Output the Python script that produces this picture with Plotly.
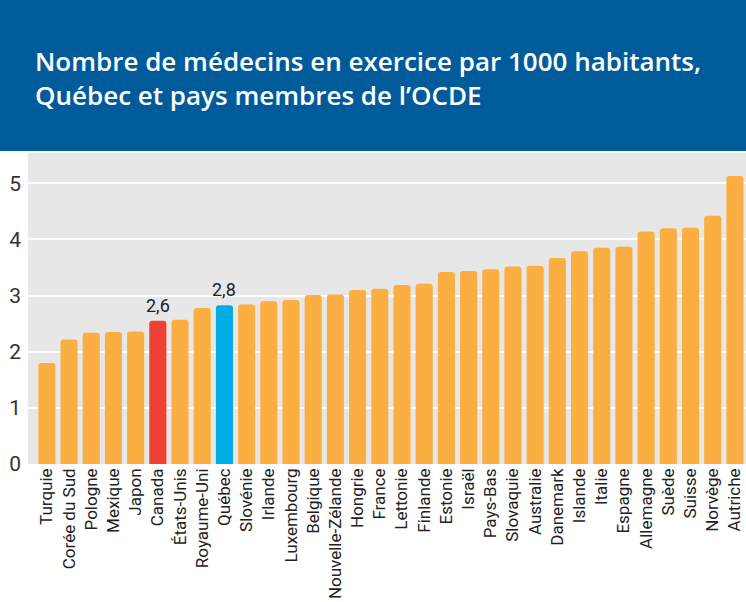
import plotly.graph_objects as go

countries = ["Turquie", "Corée du Sud", "Pologne", "Mexique", "Japon", "Canada",
             "États-Unis", "Royaume-Uni", "Québec", "Slovénie", "Irlande",
             "Luxembourg", "Belgique", "Nouvelle-Zélande", "Hongrie", "France",
             "Lettonie", "Finlande", "Estonie", "Israël", "Pays-Bas", "Slovaquie",
             "Australie", "Danemark", "Islande", "Italie", "Espagne", "Allemagne",
             "Suède", "Suisse", "Norvège", "Autriche"]
values = [1.80, 2.22, 2.34, 2.35, 2.36, 2.55, 2.57, 2.78, 2.83, 2.84, 2.90,
          2.92, 3.01, 3.02, 3.10, 3.12, 3.19, 3.21, 3.42, 3.44, 3.47, 3.52,
          3.53, 3.67, 3.79, 3.85, 3.87, 4.14, 4.20, 4.21, 4.42, 5.13]
highlight_labels = {"Canada": "2,6", "Québec": "2,8"}
y_ticks = [0, 1, 2, 3, 4, 5]
title_lines = ["Nombre de médecins en exercice par 1000 habitants,",
               "Québec et pays membres de l’OCDE"]

ORANGE = "#FBAF42"
RED = "#EE4035"
BLUE = "#00ADE3"
BANNER = "#005B9B"

colors = [RED if c == "Canada" else BLUE if c == "Québec" else ORANGE for c in countries]

fig = go.Figure()
fig.add_trace(go.Bar(
    x=countries, y=values, marker=dict(color=colors, line=dict(width=0), cornerradius=3),
    hoverinfo="x+y",
))

for c, lab in highlight_labels.items():
    i = countries.index(c)
    fig.add_annotation(x=c, y=values[i], text=lab, showarrow=False, yanchor="bottom",
                       yshift=3, font=dict(family="Roboto", size=18, color="#222222"))

plot_h = 602 - 153 - 137.5
fig.add_shape(type="rect", xref="paper", yref="paper", x0=-28 / 718, x1=1.01,
              y0=1 + 2 / plot_h, y1=1 + 160 / plot_h, fillcolor=BANNER,
              line=dict(width=0), layer="below")
fig.add_annotation(xref="paper", yref="paper", x=(33 - 28) / 718, y=1 + (153 - 41) / plot_h,
                   xanchor="left", yanchor="top", align="left", showarrow=False,
                   text="<br>".join(title_lines),
                   font=dict(family="Open Sans", size=26, color="white", weight=600))

fig.update_layout(
    width=746, height=602,
    margin=dict(l=28, r=0, t=153, b=137.5),
    paper_bgcolor="white", plot_bgcolor="#E7E7E7",
    bargap=0.23, showlegend=False,
    xaxis=dict(range=[-0.85, 31.5], tickangle=-90, showgrid=False, ticks="",
               tickfont=dict(family="Roboto", size=17, color="#222222"), fixedrange=True),
    yaxis=dict(range=[0, 5.54], tickvals=y_ticks, ticktext=[str(v) for v in y_ticks],
               showgrid=True, gridcolor="white", gridwidth=2, zeroline=False,
               tickfont=dict(family="Roboto", size=21, color="#333333"),
               ticklabelstandoff=6, fixedrange=True),
)

fig.write_html("out.html", config={"displayModeBar": False},
               post_script="document.body.style.margin='0';document.body.style.overflow='hidden';")
